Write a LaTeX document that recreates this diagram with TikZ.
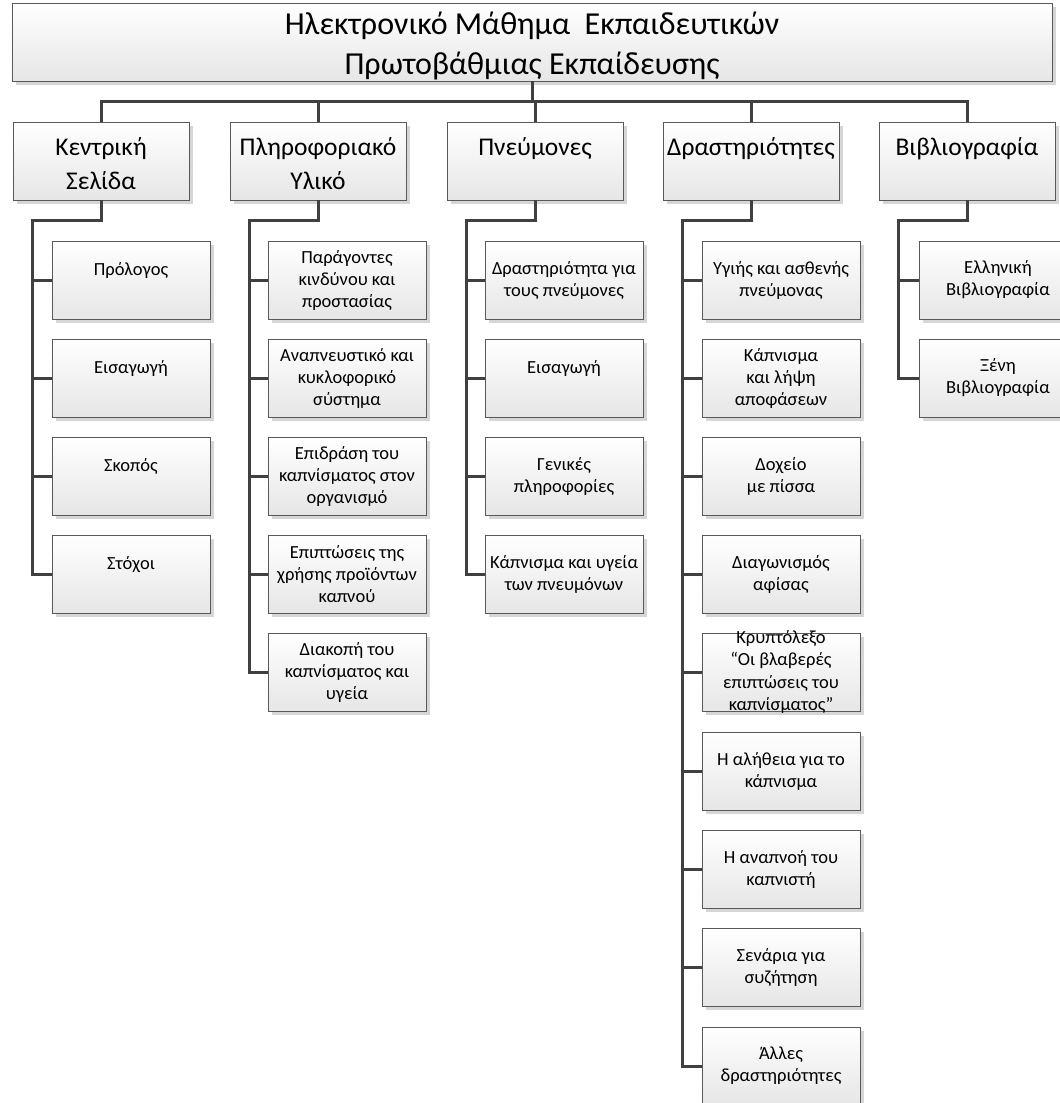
\documentclass[tikz,border=0pt]{standalone}
\usepackage{fontspec}
\setmainfont{Carlito}
\usetikzlibrary{shadows}
\definecolor{conncol}{HTML}{404040}
\definecolor{bord}{HTML}{595959}
\definecolor{bot}{HTML}{E6E6E6}
\definecolor{shd}{HTML}{D6D6D6}
\tikzset{
 basebox/.style={draw=bord, line width=0.9pt, top color=white, bottom color=bot, align=center, inner sep=0pt,
   drop shadow={shadow xshift=3.5pt, shadow yshift=-3.5pt, fill=shd, opacity=1}},
 topbox/.style={basebox, minimum width=1040pt, minimum height=78pt},
 toptext/.style={align=center, inner sep=0pt, yshift=-4pt, font=\fontsize{32}{40}\selectfont},
 lonebox/.style={basebox, minimum width=176pt, minimum height=78pt},
 lonetext/.style={align=center, inner sep=0pt, yshift=-3pt, font=\fontsize{25.5}{34}\selectfont},
 kidbox/.style={basebox, minimum width=158pt, minimum height=78pt, font=\fontsize{18.5}{22}\selectfont},
 kidlabel/.style={align=center, inner sep=0pt, font=\fontsize{18.5}{22.5}\selectfont},
 conn/.style={draw=conncol, line width=3pt},
}
\begin{document}
\begin{tikzpicture}[x=1pt,y=-1pt]
\fill[white] (0,0) rectangle (1060,1103);
\useasboundingbox (0,0) rectangle (1060,1103);

% top
\node[topbox, label={[toptext]center:{Ηλεκτρονικό Μάθημα\ \ Εκπαιδευτικών\\Πρωτοβάθμιας Εκπαίδευσης}}] (top) at (532,42) {};

% level 1
\node[lonebox, label={[lonetext]center:{Κεντρική\\Σελίδα}}] (c1) at (101,161) {};
\node[lonebox, label={[lonetext]center:{Πληροφοριακό\\Υλικό}}] (c2) at (318,161) {};
\node[lonebox, label={[lonetext]center:{Πνεύμονες\\\mbox{}}}] (c3) at (535,161) {};
\node[lonebox, label={[lonetext]center:{Δραστηριότητες\\\mbox{}}}] (c4) at (751,161) {};
\node[lonebox, label={[lonetext]center:{Βιβλιογραφία\\\mbox{}}}] (c5) at (967,161) {};

% column 1
\node[kidbox] (c1a) at (131,280) {Πρόλογος\\\mbox{}};
\node[kidbox] (c1b) at (131,378) {Εισαγωγή\\\mbox{}};
\node[kidbox] (c1c) at (131,476) {Σκοπός\\\mbox{}};
\node[kidbox] (c1d) at (131,574) {Στόχοι\\\mbox{}};

% column 2
\node[kidbox] (c2a) at (347,280) {Παράγοντες\\κινδύνου και\\προστασίας};
\node[kidbox] (c2b) at (347,378) {Αναπνευστικό και\\κυκλοφορικό\\σύστημα};
\node[kidbox] (c2c) at (347,476) {Επιδράση του\\καπνίσματος στον\\οργανισμό};
\node[kidbox] (c2d) at (347,574) {Επιπτώσεις της\\χρήσης προϊόντων\\καπνού};
\node[kidbox] (c2e) at (347,672) {Διακοπή του\\καπνίσματος και\\υγεία};

% column 3
\node[kidbox] (c3a) at (564,280) {Δραστηριότητα για\\τους πνεύμονες};
\node[kidbox] (c3b) at (564,378) {Εισαγωγή\\\mbox{}};
\node[kidbox] (c3c) at (564,476) {Γενικές\\πληροφορίες};
\node[kidbox] (c3d) at (564,574) {Κάπνισμα και υγεία\\των πνευμόνων};

% column 4
\node[kidbox] (c4a) at (781,280) {Υγιής και ασθενής\\πνεύμονας};
\node[kidbox] (c4b) at (781,378) {Κάπνισμα\\και λήψη\\αποφάσεων};
\node[kidbox] (c4c) at (781,476) {Δοχείο\\με πίσσα};
\node[kidbox] (c4d) at (781,574) {Διαγωνισμός\\αφίσας};
\node[kidbox, label={[kidlabel]center:{Κρυπτόλεξο\\“Οι βλαβερές\\επιπτώσεις του\\καπνίσματος”}}] (c4e) at (781,672) {};
\node[kidbox] (c4f) at (781,771) {Η αλήθεια για το\\κάπνισμα};
\node[kidbox] (c4g) at (781,869) {Η αναπνοή του\\καπνιστή};
\node[kidbox] (c4h) at (781,967) {Σενάρια για\\συζήτηση};
\node[kidbox] (c4i) at (781,1066) {Άλλες\\δραστηριότητες};

% column 5
\node[kidbox] (c5a) at (998,280) {Ελληνική\\Βιβλιογραφία};
\node[kidbox] (c5b) at (998,378) {Ξένη\\Βιβλιογραφία};

% connectors: top to level 1
\coordinate (bus) at (532,101);
\foreach \n in {c1,c2,c3,c4,c5}{
  \draw[conn] (top.south) |- (bus) -| (\n.north);
}

% spines
\coordinate (s1) at (32,220);
\coordinate (s2) at (249,220);
\coordinate (s3) at (466,220);
\coordinate (s4) at (682,220);
\coordinate (s5) at (898,220);

\foreach \k in {c1a,c1b,c1c,c1d}{\draw[conn] (c1.south) |- (s1) |- (\k.west);}
\foreach \k in {c2a,c2b,c2c,c2d,c2e}{\draw[conn] (c2.south) |- (s2) |- (\k.west);}
\foreach \k in {c3a,c3b,c3c,c3d}{\draw[conn] (c3.south) |- (s3) |- (\k.west);}
\foreach \k in {c4a,c4b,c4c,c4d,c4e,c4f,c4g,c4h,c4i}{\draw[conn] (c4.south) |- (s4) |- (\k.west);}
\foreach \k in {c5a,c5b}{\draw[conn] (c5.south) |- (s5) |- (\k.west);}
\end{tikzpicture}
\end{document}
